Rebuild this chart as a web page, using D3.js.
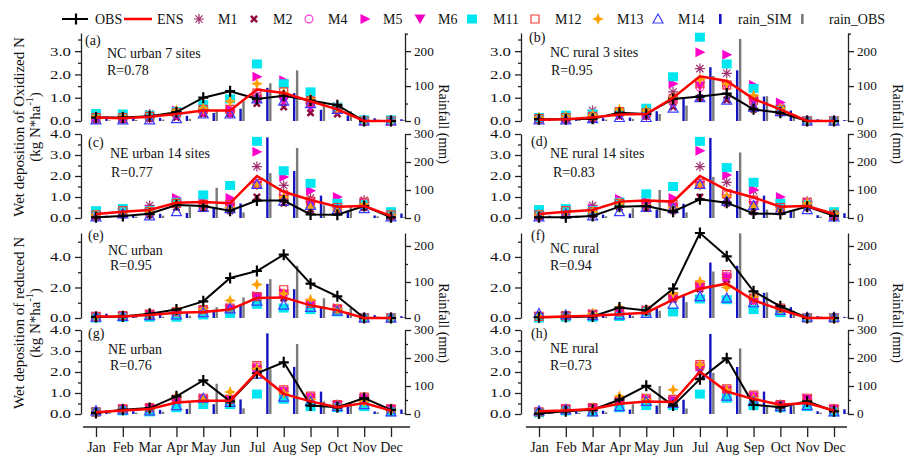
<!DOCTYPE html>
<html>
<head>
<meta charset="utf-8">
<script src="https://cdn.jsdelivr.net/npm/d3@7"></script>
<style>
  body { margin: 0; background: #fff; }
  svg { font-family: "Liberation Serif", "Times New Roman", serif; }
</style>
</head>
<body>
<svg id="chart" width="904" height="458"></svg>
<script>
'use strict';

// ---- data ----
var months = ['Jan', 'Feb', 'Mar', 'Apr', 'May', 'Jun', 'Jul', 'Aug', 'Sep', 'Oct', 'Nov', 'Dec'];
var modelNames = ['M1', 'M2', 'M4', 'M5', 'M6', 'M11', 'M12', 'M13', 'M14'];

// rainfall (mm), simulated and observed
var rainNCurbanSim = [12, 8, 9, 15, 23, 35, 95, 80, 32, 16, 8, 5];
var rainNCurbanObs = [2, 3, 4, 6, 30, 57, 108, 145, 55, 28, 4, 3];
var rainNCruralSim = [5, 6, 8, 10, 28, 65, 154, 145, 70, 30, 5, 3];
var rainNCruralObs = [2, 3, 4, 6, 20, 44, 129, 235, 71, 20, 4, 2];
var rainNEurbanSim = [8, 10, 15, 18, 35, 52, 288, 168, 80, 27, 9, 16];
var rainNEurbanObs = [3, 5, 8, 40, 108, 20, 160, 250, 45, 42, 6, 4];
var rainNEruralSim = [8, 8, 12, 16, 30, 51, 286, 168, 80, 28, 10, 17];
var rainNEruralObs = [3, 4, 6, 35, 100, 20, 147, 234, 30, 30, 5, 3];

// (a) NC urban, oxidized N
var a_obs = [0.15, 0.15, 0.2, 0.38, 1.0, 1.28, 0.95, 1.08, 0.88, 0.68, 0, 0];
var a_ens = [0.15, 0.12, 0.18, 0.3, 0.45, 0.45, 1.35, 1.2, 0.85, 0.5, 0, 0];
var a_mod = [ // M1 M2 M4 M5 M6 M11 M12 M13 M14
  [0.15, 0.15, 0.3, 0.4, 0.45, 0.4, 1.1, 1.05, 0.75, 0.5, 0, 0],
  [0.05, 0.05, 0.1, 0.15, 0.3, 0.3, 0.75, 0.6, 0.35, 0.3, 0, 0],
  [0.1, 0.1, 0.15, 0.3, 0.45, 0.45, 1.05, 1.1, 0.75, 0.55, 0, 0],
  [0.15, 0.15, 0.25, 0.45, 0.5, 0.5, 1.9, 1.75, 1.0, 0.6, 0, 0],
  [0.05, 0.05, 0.1, 0.25, 0.35, 0.3, 0.9, 0.85, 0.6, 0.45, 0, 0],
  [0.32, 0.3, 0.25, 0.4, 0.7, 0.95, 2.45, 1.6, 1.25, 0.6, 0.05, 0.05],
  [0.15, 0.15, 0.2, 0.35, 0.5, 0.5, 1.2, 1.25, 0.85, 0.55, 0, 0],
  [0.2, 0.2, 0.2, 0.45, 0.55, 0.85, 1.6, 1.2, 0.95, 0.55, 0, 0],
  [0.05, 0.05, 0.05, 0.1, 0.3, 0.3, 0.95, 0.85, 0.75, 0.5, 0, 0]
];

// (b) NC rural, oxidized N
var b_obs = [0.08, 0.08, 0.1, 0.35, 0.3, 0.95, 1.05, 1.18, 0.5, 0.35, 0, 0];
var b_ens = [0.05, 0.08, 0.15, 0.28, 0.3, 1.0, 1.92, 1.72, 0.95, 0.5, 0, 0];
var b_mod = [
  [0.1, 0.15, 0.45, 0.4, 0.3, 1.25, 2.25, 2.05, 1.0, 0.55, 0, 0],
  [0.05, 0.05, 0.1, 0.2, 0.2, 0.6, 1.0, 0.9, 0.5, 0.35, 0, 0],
  [0.1, 0.1, 0.2, 0.3, 0.25, 0.8, 1.45, 1.5, 0.8, 0.45, 0, 0],
  [0.1, 0.15, 0.3, 0.4, 0.3, 1.6, 2.95, 2.85, 1.55, 0.8, 0, 0],
  [0.05, 0.1, 0.15, 0.25, 0.2, 0.85, 1.5, 1.5, 0.8, 0.45, 0, 0],
  [0.15, 0.25, 0.3, 0.4, 0.55, 1.9, 3.6, 2.45, 1.4, 0.5, 0, 0],
  [0.1, 0.15, 0.2, 0.4, 0.35, 0.95, 1.6, 1.55, 0.9, 0.5, 0, 0],
  [0.15, 0.2, 0.25, 0.5, 0.45, 1.0, 1.8, 1.6, 1.1, 0.55, 0, 0],
  [0.05, 0.05, 0.1, 0.15, 0.15, 0.55, 1.0, 0.9, 0.6, 0.4, 0, 0]
];

// (c) NE urban, oxidized N
var c_obs = [0.03, 0.1, 0.2, 0.62, 0.57, 0.35, 0.83, 0.83, 0.17, 0.16, 0.57, 0.03];
var c_ens = [0.19, 0.3, 0.38, 0.73, 0.76, 0.7, 2.0, 1.25, 0.86, 0.54, 0.57, 0.1];
var c_mod = [
  [0.15, 0.4, 0.6, 0.8, 0.7, 0.6, 2.45, 1.55, 0.95, 0.5, 0.85, 0.15],
  [0.05, 0.15, 0.15, 0.5, 0.45, 0.35, 1.0, 0.7, 0.4, 0.3, 0.5, 0.05],
  [0.15, 0.3, 0.3, 0.65, 0.6, 0.6, 1.6, 1.1, 0.75, 0.5, 0.7, 0.15],
  [0.2, 0.35, 0.4, 0.95, 0.8, 0.95, 3.15, 1.95, 1.3, 1.0, 0.75, 0.2],
  [0.1, 0.25, 0.25, 0.6, 0.55, 0.5, 1.55, 0.9, 0.6, 0.4, 0.6, 0.1],
  [0.35, 0.45, 0.35, 0.75, 1.1, 1.55, 3.65, 2.25, 1.65, 0.7, 0.65, 0.3],
  [0.15, 0.35, 0.3, 0.7, 0.65, 0.65, 1.65, 1.1, 0.8, 0.5, 0.75, 0.15],
  [0.15, 0.25, 0.3, 0.7, 0.6, 0.5, 1.6, 1.0, 0.5, 0.4, 0.65, 0.15],
  [0.05, 0.2, 0.1, 0.3, 0.5, 0.45, 1.6, 0.8, 0.6, 0.4, 0.45, 0.05]
];

// (d) NE rural, oxidized N
var d_obs = [0.03, 0.03, 0.1, 0.54, 0.57, 0.3, 0.89, 0.73, 0.22, 0.19, 0.54, 0.1];
var d_ens = [0.19, 0.3, 0.38, 0.78, 0.83, 0.78, 2.0, 1.33, 0.98, 0.54, 0.57, 0.19];
var d_mod = [
  [0.15, 0.4, 0.6, 0.8, 0.75, 0.6, 2.45, 1.7, 1.3, 0.5, 0.8, 0.2],
  [0.05, 0.15, 0.15, 0.5, 0.45, 0.35, 1.0, 0.7, 0.3, 0.3, 0.5, 0.05],
  [0.15, 0.3, 0.3, 0.65, 0.6, 0.6, 1.6, 1.1, 0.75, 0.5, 0.7, 0.15],
  [0.2, 0.35, 0.45, 0.9, 0.8, 0.95, 3.2, 2.05, 1.35, 1.0, 0.75, 0.2],
  [0.1, 0.25, 0.25, 0.6, 0.55, 0.5, 1.55, 0.9, 0.6, 0.4, 0.6, 0.1],
  [0.4, 0.45, 0.35, 0.75, 1.15, 1.5, 3.65, 2.4, 1.7, 0.7, 0.65, 0.3],
  [0.15, 0.35, 0.3, 0.7, 0.65, 0.65, 1.65, 1.15, 0.85, 0.5, 0.75, 0.15],
  [0.15, 0.25, 0.3, 0.7, 0.6, 0.5, 1.6, 1.05, 0.55, 0.4, 0.7, 0.2],
  [0.05, 0.2, 0.1, 0.3, 0.5, 0.45, 1.6, 0.8, 0.6, 0.4, 0.4, 0.05]
];

// (e) NC urban, reduced N
var e_obs = [0.07, 0.1, 0.28, 0.55, 1.09, 2.62, 3.08, 4.15, 2.25, 1.42, 0, 0];
var e_ens = [0.1, 0.1, 0.2, 0.35, 0.4, 0.55, 1.31, 1.35, 0.83, 0.5, 0, 0];
var e_mod = [
  [0.1, 0.15, 0.25, 0.4, 0.5, 0.6, 1.3, 1.55, 0.9, 0.6, 0, 0],
  [0.05, 0.1, 0.2, 0.35, 0.45, 0.55, 1.2, 1.3, 0.8, 0.5, 0, 0],
  [0.1, 0.15, 0.25, 0.35, 0.5, 0.6, 1.4, 1.6, 0.9, 0.6, 0, 0],
  [0.1, 0.15, 0.25, 0.4, 0.5, 0.65, 1.45, 1.65, 0.95, 0.65, 0, 0],
  [0.05, 0.1, 0.2, 0.3, 0.45, 0.55, 1.35, 1.55, 0.85, 0.55, 0, 0],
  [0.0, 0.05, 0.05, 0.05, 0.2, 0.3, 0.9, 0.65, 0.55, 0.4, 0, 0],
  [0.1, 0.15, 0.25, 0.4, 0.55, 0.65, 1.4, 1.85, 0.95, 0.6, 0, 0],
  [0.05, 0.15, 0.25, 0.55, 0.6, 1.15, 2.2, 1.6, 1.2, 0.6, 0, 0],
  [0.05, 0.1, 0.15, 0.2, 0.35, 0.6, 1.1, 0.85, 0.7, 0.45, 0, 0]
];

// (f) NC rural, reduced N
var f_obs = [0.05, 0.07, 0.1, 0.68, 0.5, 1.92, 5.57, 4.04, 1.75, 0.77, 0, 0];
var f_ens = [0.05, 0.1, 0.15, 0.25, 0.35, 1.2, 1.92, 2.25, 1.16, 0.55, 0, 0];
var f_mod = [
  [0.1, 0.15, 0.25, 0.4, 0.45, 1.4, 2.1, 2.7, 1.2, 0.6, 0, 0],
  [0.05, 0.1, 0.2, 0.3, 0.35, 1.2, 1.9, 2.5, 1.1, 0.5, 0, 0],
  [0.1, 0.15, 0.25, 0.4, 0.45, 1.35, 2.05, 2.75, 1.2, 0.6, 0, 0],
  [0.1, 0.15, 0.25, 0.4, 0.5, 1.4, 2.1, 2.7, 1.25, 0.65, 0, 0],
  [0.05, 0.1, 0.2, 0.35, 0.4, 1.3, 2.0, 2.6, 1.15, 0.55, 0, 0],
  [0.0, 0.05, 0.05, 0.1, 0.4, 0.4, 1.25, 1.2, 0.55, 0.35, 0, 0],
  [0.1, 0.15, 0.25, 0.4, 0.5, 1.4, 2.15, 2.85, 1.3, 0.65, 0, 0],
  [0.1, 0.2, 0.3, 0.7, 0.5, 1.6, 2.4, 2.0, 1.4, 0.6, 0, 0],
  [0.3, 0.2, 0.15, 0.2, 0.3, 0.9, 1.4, 1.3, 1.0, 0.5, 0.05, 0.05]
];

// (g) NE urban, reduced N
var g_obs = [0.05, 0.2, 0.28, 0.84, 1.6, 0.6, 1.94, 2.46, 0.4, 0.32, 0.76, 0.2];
var g_ens = [0.08, 0.17, 0.24, 0.55, 0.63, 0.63, 1.99, 0.96, 0.6, 0.32, 0.52, 0.16];
var g_mod = [
  [0.1, 0.25, 0.3, 0.65, 0.7, 0.7, 2.2, 1.1, 0.8, 0.45, 0.75, 0.25],
  [0.05, 0.2, 0.25, 0.55, 0.6, 0.6, 2.0, 1.0, 0.7, 0.4, 0.7, 0.2],
  [0.1, 0.25, 0.3, 0.65, 0.7, 0.7, 2.25, 1.1, 0.8, 0.45, 0.75, 0.25],
  [0.1, 0.25, 0.3, 0.7, 0.75, 0.7, 2.2, 1.1, 0.8, 0.45, 0.75, 0.25],
  [0.05, 0.2, 0.25, 0.6, 0.65, 0.65, 2.1, 1.05, 0.75, 0.4, 0.7, 0.2],
  [0.1, 0.15, 0.1, 0.3, 0.45, 0.45, 0.95, 0.7, 0.35, 0.3, 0.35, 0.1],
  [0.1, 0.25, 0.3, 0.7, 0.75, 0.7, 2.3, 1.15, 0.85, 0.45, 0.8, 0.25],
  [0.05, 0.2, 0.25, 0.85, 0.7, 1.05, 2.15, 1.0, 0.7, 0.4, 0.6, 0.15],
  [0.15, 0.2, 0.15, 0.4, 0.75, 0.55, 1.9, 0.8, 0.6, 0.35, 0.45, 0.1]
];

// (h) NE rural, reduced N
var h_obs = [0.02, 0.13, 0.2, 0.68, 1.34, 0.4, 1.66, 2.65, 0.44, 0.32, 0.6, 0.13];
var h_ens = [0.13, 0.17, 0.24, 0.49, 0.6, 0.57, 2.02, 1.07, 0.71, 0.44, 0.52, 0.17];
var h_mod = [
  [0.1, 0.25, 0.3, 0.6, 0.7, 0.65, 2.3, 1.15, 0.85, 0.45, 0.7, 0.25],
  [0.05, 0.2, 0.25, 0.5, 0.6, 0.55, 2.0, 1.05, 0.75, 0.4, 0.65, 0.2],
  [0.1, 0.25, 0.3, 0.6, 0.7, 0.65, 2.3, 1.15, 0.85, 0.45, 0.7, 0.25],
  [0.1, 0.25, 0.3, 0.6, 0.75, 0.65, 2.25, 1.15, 0.85, 0.45, 0.75, 0.25],
  [0.05, 0.2, 0.25, 0.55, 0.65, 0.6, 2.15, 1.1, 0.8, 0.4, 0.7, 0.2],
  [0.05, 0.15, 0.1, 0.3, 0.4, 0.4, 0.95, 0.75, 0.4, 0.3, 0.35, 0.1],
  [0.1, 0.25, 0.3, 0.65, 0.75, 0.7, 2.35, 1.2, 0.9, 0.45, 0.75, 0.25],
  [0.05, 0.2, 0.25, 0.85, 0.7, 1.15, 2.35, 1.15, 0.75, 0.4, 0.6, 0.15],
  [0.15, 0.2, 0.1, 0.35, 0.6, 0.5, 1.9, 0.85, 0.6, 0.35, 0.4, 0.1]
];

// ---- layout ----
var rows = [
  { top: 33, base: 121, yMax: 3.78, rMax: 252, yStep: 1 },
  { top: 134, base: 218, yMax: 4, rMax: 300, yStep: 1 },
  { top: 233, base: 318, yMax: 5.57, rMax: 236, yStep: 2 },
  { top: 330, base: 414, yMax: 4, rMax: 300, yStep: 1 }
];
var cols = [
  { left: 81, right: 405, x0: 96, x11: 391, axisA: 83, axisB: 410, rainTitle: 443 },
  { left: 521, right: 848, x0: 539, x11: 834, axisA: 526, axisB: 847, rainTitle: 897 }
];

var panels = [
  { row: 0, col: 0, tag: '(a)', name: 'NC urban 7 sites', r: 'R=0.78', obs: a_obs, ens: a_ens, mod: a_mod, sim: rainNCurbanSim, robs: rainNCurbanObs, pos: [[85, 45], [107, 58], [107, 75]] },
  { row: 0, col: 1, tag: '(b)', name: 'NC rural 3 sites', r: 'R=0.95', obs: b_obs, ens: b_ens, mod: b_mod, sim: rainNCruralSim, robs: rainNCruralObs, pos: [[529, 42], [550, 57], [551, 75]] },
  { row: 1, col: 0, tag: '(c)', name: 'NE urban 14 sites', r: 'R=0.77', obs: c_obs, ens: c_ens, mod: c_mod, sim: rainNEurbanSim, robs: rainNEurbanObs, pos: [[88, 147], [110, 158], [111, 177]] },
  { row: 1, col: 1, tag: '(d)', name: 'NE rural 14 sites', r: 'R=0.83', obs: d_obs, ens: d_ens, mod: d_mod, sim: rainNEruralSim, robs: rainNEruralObs, pos: [[531, 146], [550, 158], [553, 177]] },
  { row: 2, col: 0, tag: '(e)', name: 'NC urban', r: 'R=0.95', obs: e_obs, ens: e_ens, mod: e_mod, sim: rainNCurbanSim, robs: rainNCurbanObs, pos: [[88, 240], [108, 255], [110, 270]] },
  { row: 2, col: 1, tag: '(f)', name: 'NC rural', r: 'R=0.94', obs: f_obs, ens: f_ens, mod: f_mod, sim: rainNCruralSim, robs: rainNCruralObs, pos: [[531, 240], [550, 253], [550, 270]] },
  { row: 3, col: 0, tag: '(g)', name: 'NE urban', r: 'R=0.76', obs: g_obs, ens: g_ens, mod: g_mod, sim: rainNEurbanSim, robs: rainNEurbanObs, pos: [[88, 338], [108, 354], [110, 370]] },
  { row: 3, col: 1, tag: '(h)', name: 'NE rural', r: 'R=0.73', obs: h_obs, ens: h_ens, mod: h_mod, sim: rainNEruralSim, robs: rainNEruralObs, pos: [[531, 338], [550, 353], [550, 370]] }
];

var colSim = '#1414c0', colRobs = '#7a7a7a';

// marker look per model, same order as modelNames
var modelStyles = [
  { shape: 'star', fill: 'none', stroke: '#a0306e', sw: 1.2 },
  { shape: 'xfill', fill: '#8e0c40', stroke: 'none', sw: 0 },
  { shape: 'circle', fill: 'none', stroke: '#ff3ccc', sw: 1.2 },
  { shape: 'triR', fill: '#ff00cc', stroke: 'none', sw: 0 },
  { shape: 'triD', fill: '#f000c0', stroke: 'none', sw: 0 },
  { shape: 'square', fill: '#00e6f0', stroke: 'none', sw: 0 },
  { shape: 'sqopen', fill: 'none', stroke: '#f03838', sw: 1.2 },
  { shape: 'star4', fill: '#ffa000', stroke: 'none', sw: 0 },
  { shape: 'triopen', fill: 'none', stroke: '#3c3cff', sw: 1.2 }
];

function markerPath(shape) {
  switch (shape) {
    case 'star': return 'M-5,0L5,0M0,-5L0,5M-3.6,-3.6L3.6,3.6M-3.6,3.6L3.6,-3.6';
    case 'xfill': return 'M-4,-2.2L-2.2,-4L0,-1.8L2.2,-4L4,-2.2L1.8,0L4,2.2L2.2,4L0,1.8L-2.2,4L-4,2.2L-1.8,0Z';
    case 'circle': return d3.symbol(d3.symbolCircle, 48)();
    case 'triR': return 'M-4.5,-5L5.5,0L-4.5,5Z';
    case 'triD': return 'M-5.5,-4.5L5.5,-4.5L0,5Z';
    case 'square': return 'M-5,-4.5h10v9h-10Z';
    case 'sqopen': return 'M-4,-4h8v8h-8Z';
    case 'star4': return 'M0,-6L1.7,-1.7L6,0L1.7,1.7L0,6L-1.7,1.7L-6,0L-1.7,-1.7Z';
    case 'triopen': return 'M0,-5L5,4L-5,4Z';
    case 'plus': return 'M-5,0L5,0M0,-5.5L0,5.5';
  }
}

var svg = d3.select('#chart');

function drawPanel(p) {
  var row = rows[p.row], col = cols[p.col];
  var x = d3.scaleLinear().domain([0, 11]).range([col.x0, col.x11]);
  var y = d3.scaleLinear().domain([0, row.yMax]).range([row.base, row.top]);
  var yr = d3.scaleLinear().domain([0, row.rMax]).range([row.base, row.top]);
  var g = svg.append('g');

  // rainfall bars
  g.selectAll('.sim').data(p.sim).enter().append('rect')
    .attr('x', function(d, i) { return x(i + 0.39) - 1.2; })
    .attr('width', 2.4)
    .attr('y', function(d) { return yr(d); })
    .attr('height', function(d) { return row.base - yr(d); })
    .attr('fill', colSim);
  g.selectAll('.robs').data(p.robs).enter().append('rect')
    .attr('x', function(d, i) { return x(i + 0.5) - 1.2; })
    .attr('width', 2.4)
    .attr('y', function(d) { return yr(d); })
    .attr('height', function(d) { return row.base - yr(d); })
    .attr('fill', colRobs);

  // model markers
  p.mod.forEach(function(vals, k) {
    var st = modelStyles[k];
    g.selectAll(null).data(vals).enter().append('path')
      .attr('d', markerPath(st.shape))
      .attr('transform', function(d, i) { return 'translate(' + x(i) + ',' + y(d) + ')'; })
      .attr('fill', st.fill)
      .attr('stroke', st.stroke)
      .attr('stroke-width', st.sw);
  });

  var line = d3.line()
    .x(function(d, i) { return x(i); })
    .y(function(d) { return y(d); });

  // observed
  g.append('path').datum(p.obs)
    .attr('d', line).attr('fill', 'none')
    .attr('stroke', '#000').attr('stroke-width', 2);
  g.selectAll(null).data(p.obs).enter().append('path')
    .attr('d', markerPath('plus'))
    .attr('transform', function(d, i) { return 'translate(' + x(i) + ',' + y(d) + ')'; })
    .attr('stroke', '#000').attr('stroke-width', 2.2);

  // ensemble
  g.append('path').datum(p.ens)
    .attr('d', line).attr('fill', 'none')
    .attr('stroke', '#ff0000').attr('stroke-width', 2.5);

  // left axis
  var majors = d3.range(0, row.yMax + 1e-6, row.yStep);
  var minors = d3.range(row.yStep / 2, row.yMax, row.yStep);
  g.append('g').attr('class', 'ylab').attr('transform', 'translate(' + col.left + ',0)')
    .call(d3.axisLeft(y).tickValues(majors).tickSize(6).tickSizeOuter(0).tickPadding(4).tickFormat(d3.format('.1f')));
  g.append('g').attr('transform', 'translate(' + col.left + ',0)')
    .call(d3.axisLeft(y).tickValues(minors).tickSize(3).tickSizeOuter(0).tickFormat(''))
    .select('.domain').remove();

  // right axis (rainfall)
  var rMaj = d3.range(0, row.rMax + 1e-6, 100);
  var rMin = d3.range(50, row.rMax, 100);
  g.append('g').attr('class', 'rlab').attr('transform', 'translate(' + col.right + ',0)')
    .call(d3.axisRight(yr).tickValues(rMaj).tickSize(6).tickSizeOuter(0).tickPadding(3));
  g.append('g').attr('transform', 'translate(' + col.right + ',0)')
    .call(d3.axisRight(yr).tickValues(rMin).tickSize(3).tickSizeOuter(0).tickFormat(''))
    .select('.domain').remove();

  // panel texts
  var txt = [p.tag, p.name, p.r];
  txt.forEach(function(t, i) {
    g.append('text').attr('x', p.pos[i][0]).attr('y', p.pos[i][1])
      .attr('font-size', 14).attr('fill', '#111').text(t);
  });
}

panels.forEach(drawPanel);

// bottom month axes
cols.forEach(function(col) {
  var x = d3.scaleLinear().domain([0, 11]).range([col.x0, col.x11]);
  var ax = svg.append('g').attr('class', 'xlab').attr('transform', 'translate(0,427)')
    .call(d3.axisBottom(x).tickValues(d3.range(12)).tickSize(10).tickSizeOuter(0).tickPadding(5)
      .tickFormat(function(i) { return months[i]; }));
  ax.select('.domain').remove();
  svg.append('line').attr('x1', col.axisA).attr('x2', col.axisB)
    .attr('y1', 427).attr('y2', 427).attr('stroke', '#222').attr('stroke-width', 1.3);
});

// axis styling
svg.selectAll('.tick line, .domain').attr('stroke', '#222').attr('stroke-width', 1.3);
svg.selectAll('.tick text').attr('font-size', 12).attr('fill', '#111')
  .attr('font-family', '"Liberation Serif", "Times New Roman", serif');
svg.selectAll('.xlab .tick text').attr('font-size', 14);
function stretch(sel, k) {
  sel.each(function() {
    var w = this.getComputedTextLength();
    d3.select(this).attr('textLength', w * k).attr('lengthAdjust', 'spacingAndGlyphs');
  });
}
stretch(svg.selectAll('.ylab .tick text'), 1.4);
stretch(svg.selectAll('.rlab .tick text'), 1.1);

// axis titles
function yTitle(cy, first) {
  svg.append('text').attr('transform', 'translate(19,' + cy + ') rotate(-90)')
    .attr('text-anchor', 'middle').attr('dominant-baseline', 'central')
    .attr('font-size', 15).attr('fill', '#111').text(first);
  var t2 = svg.append('text').attr('transform', 'translate(35,' + cy + ') rotate(-90)')
    .attr('text-anchor', 'middle').attr('dominant-baseline', 'central')
    .attr('font-size', 15).attr('fill', '#111');
  t2.append('tspan').text('(kg N*ha');
  t2.append('tspan').attr('font-size', 10).attr('dy', -6).text('-1');
  t2.append('tspan').attr('dy', 6).text(')');
}
yTitle(127, 'Wet deposition of Oxidized N');
yTitle(323, 'Wet deposition of reduced N');

cols.forEach(function(col) {
  [124, 323].forEach(function(cy) {
    svg.append('text').attr('transform', 'translate(' + col.rainTitle + ',' + cy + ') rotate(90)')
      .attr('text-anchor', 'middle').attr('dominant-baseline', 'central')
      .attr('font-size', 14).attr('fill', '#111').text('Rainfall (mm)');
  });
});

// legend
var legend = svg.append('g').attr('class', 'legend');
var ly = 19;
legend.append('line').attr('x1', 62).attr('x2', 88).attr('y1', ly).attr('y2', ly)
  .attr('stroke', '#000').attr('stroke-width', 2);
legend.append('path').attr('d', markerPath('plus')).attr('transform', 'translate(76,' + ly + ')')
  .attr('stroke', '#000').attr('stroke-width', 2.2);
legend.append('text').attr('x', 95).attr('y', ly + 5).text('OBS');
legend.append('line').attr('x1', 124).attr('x2', 152).attr('y1', ly).attr('y2', ly)
  .attr('stroke', '#ff0000').attr('stroke-width', 2.5);
legend.append('text').attr('x', 157).attr('y', ly + 5).text('ENS');

var legendX = [[199, 218], [254, 273], [309, 328], [365, 383], [420, 438], [472, 493], [535, 555], [598, 617], [658, 678]];
modelNames.forEach(function(name, k) {
  var st = modelStyles[k];
  legend.append('path').attr('d', markerPath(st.shape))
    .attr('transform', 'translate(' + legendX[k][0] + ',' + ly + ')')
    .attr('fill', st.fill).attr('stroke', st.stroke).attr('stroke-width', st.sw);
  legend.append('text').attr('x', legendX[k][1]).attr('y', ly + 5).text(name);
});
legend.append('rect').attr('x', 719).attr('y', ly - 5).attr('width', 2.6).attr('height', 10).attr('fill', colSim);
legend.append('text').attr('x', 738).attr('y', ly + 5).text('rain_SIM');
legend.append('rect').attr('x', 801).attr('y', ly - 5).attr('width', 2.6).attr('height', 10).attr('fill', colRobs);
legend.append('text').attr('x', 829).attr('y', ly + 5).text('rain_OBS');
legend.selectAll('text').attr('font-size', 14).attr('fill', '#111');
</script>
</body>
</html>
